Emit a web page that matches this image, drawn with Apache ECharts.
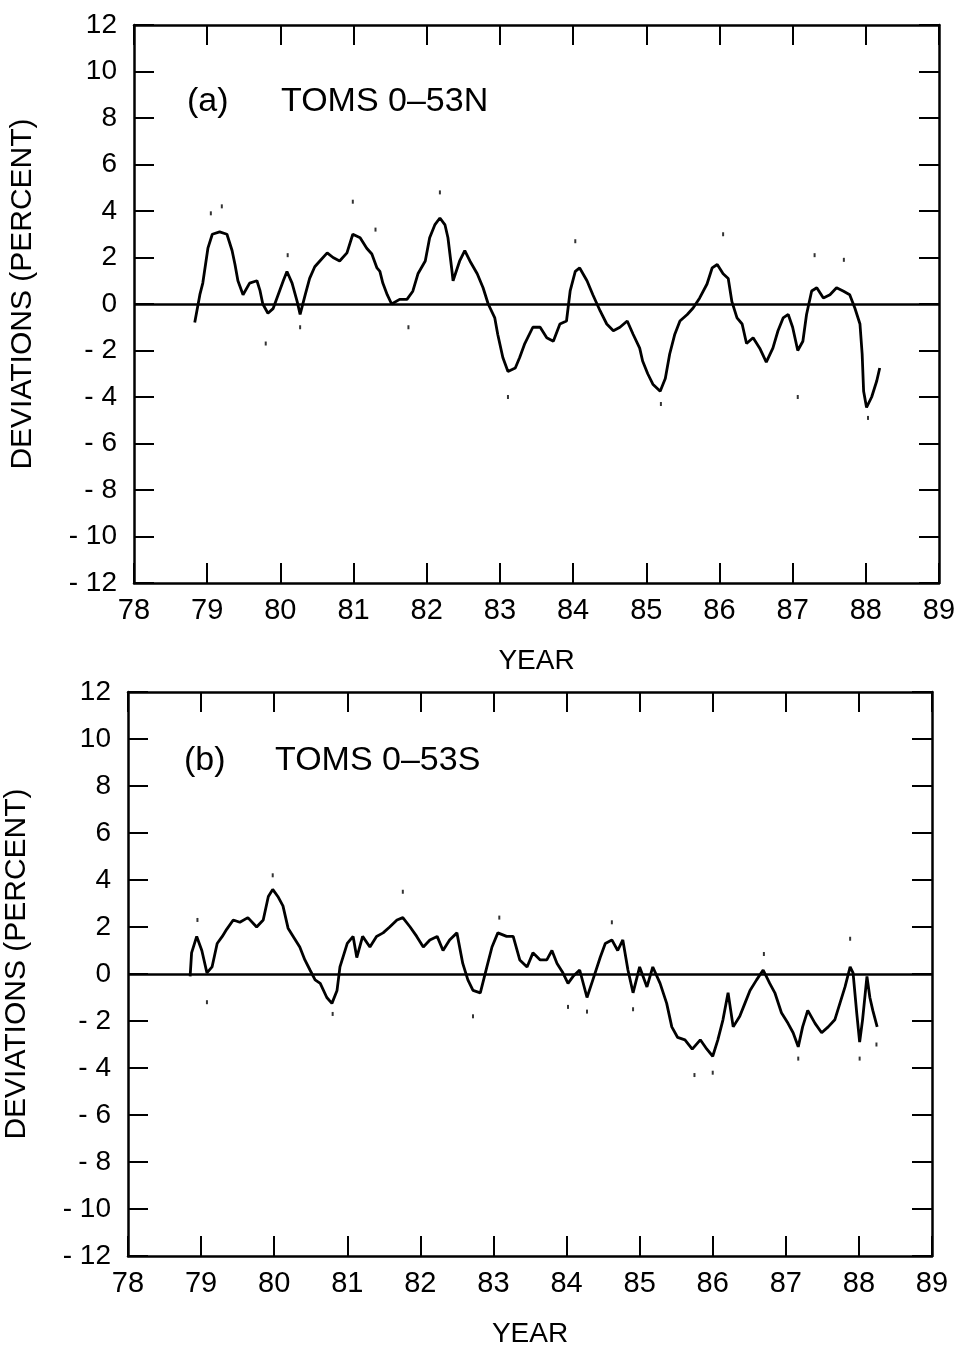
<!DOCTYPE html>
<html>
<head>
<meta charset="utf-8">
<script src="https://cdn.jsdelivr.net/npm/echarts@6/dist/echarts.min.js"></script>
<style>
html,body{margin:0;padding:0;background:#fff;}
#chart{width:954px;height:1346px;}
</style>
</head>
<body>
<div id="chart"></div>
<script>
// ---------- DATA ----------
const xTicks = [78, 79, 80, 81, 82, 83, 84, 85, 86, 87, 88, 89];
const yTicks = [-12, -10, -8, -6, -4, -2, 0, 2, 4, 6, 8, 10, 12];

// Panel (a) TOMS 0-53N : year (19xx) and deviation (%)
const yearsA = [78.83,78.9,78.94,79.01,79.07,79.17,79.27,79.34,79.38,79.42,79.49,79.58,79.68,79.72,79.76,79.83,79.9,79.97,
80.04,80.09,80.16,80.23,80.27,80.34,80.4,80.47,80.54,80.64,80.72,80.81,80.91,80.99,81.09,81.18,81.25,81.32,81.36,81.4,81.46,
81.52,81.63,81.73,81.81,81.88,81.98,82.04,82.11,82.18,82.25,82.29,82.34,82.36,82.45,82.52,82.59,82.69,82.77,82.84,82.93,82.97,
83.04,83.11,83.21,83.27,83.34,83.45,83.55,83.64,83.73,83.82,83.91,83.96,84.03,84.09,84.19,84.27,84.37,84.46,84.55,84.64,84.74,
84.82,84.91,84.95,85.02,85.09,85.19,85.26,85.32,85.39,85.46,85.56,85.64,85.73,85.83,85.9,85.97,86.05,86.12,86.17,86.24,86.31,
86.37,86.46,86.55,86.64,86.73,86.8,86.87,86.94,87.0,87.07,87.14,87.19,87.26,87.33,87.42,87.51,87.6,87.69,87.78,87.85,87.92,
87.95,87.97,88.01,88.08,88.15,88.19];
const valuesA = [-0.8,0.4,0.9,2.4,3.0,3.1,3.0,2.3,1.7,1.0,0.4,0.9,1.0,0.6,0.0,-0.4,-0.2,0.4,
1.0,1.4,0.9,0.1,-0.45,0.4,1.1,1.6,1.85,2.2,2.0,1.85,2.2,3.0,2.85,2.4,2.15,1.55,1.4,0.9,0.4,
0.0,0.2,0.2,0.55,1.3,1.85,2.85,3.4,3.7,3.4,2.85,1.55,1.0,1.85,2.3,1.85,1.3,0.7,0.0,-0.6,-1.3,
-2.3,-2.9,-2.75,-2.3,-1.7,-1.0,-1.0,-1.45,-1.6,-0.86,-0.73,0.56,1.4,1.55,1.0,0.4,-0.3,-0.86,-1.15,-1.0,-0.73,
-1.3,-1.9,-2.45,-3.0,-3.45,-3.75,-3.2,-2.15,-1.3,-0.73,-0.45,-0.17,0.26,0.86,1.55,1.7,1.3,1.1,0.1,-0.6,-0.86,
-1.7,-1.45,-1.9,-2.5,-1.9,-1.15,-0.6,-0.45,-1.0,-2.0,-1.6,-0.45,0.56,0.7,0.26,0.4,0.7,0.56,0.4,-0.17,-0.86,
-2.15,-3.75,-4.45,-4.0,-3.3,-2.75];
// scattered outlying dots, panel (a)
const dotsYearA  = [79.05,79.2,79.8,80.27,80.1,80.99,81.3,81.75,82.18,83.11,84.03,85.2,86.05,87.07,87.3,87.7,88.03];
const dotsValueA = [3.9,4.2,-1.7,-1.0,2.1,4.4,3.2,-1.0,4.8,-4.0,2.7,-4.3,3.0,-4.0,2.1,1.9,-4.9];

// Panel (b) TOMS 0-53S
const yearsB = [78.85,78.87,78.94,79.01,79.08,79.15,79.22,79.29,79.35,79.44,79.53,79.64,79.76,79.85,79.92,79.98,
80.05,80.12,80.19,80.26,80.35,80.42,80.49,80.56,80.63,80.72,80.79,80.86,80.9,81.0,81.08,81.13,81.21,81.31,81.4,81.49,
81.58,81.68,81.76,81.86,81.95,82.04,82.13,82.23,82.31,82.4,82.5,82.58,82.65,82.72,82.82,82.91,82.98,83.06,83.18,83.27,
83.36,83.46,83.54,83.64,83.73,83.8,83.87,83.95,84.02,84.09,84.18,84.28,84.36,84.46,84.53,84.62,84.7,84.77,84.84,84.91,
85.0,85.1,85.18,85.28,85.37,85.44,85.52,85.62,85.72,85.83,85.92,86.0,86.07,86.14,86.21,86.28,86.37,86.44,86.51,86.6,
86.69,86.78,86.85,86.94,87.03,87.1,87.17,87.23,87.3,87.4,87.49,87.58,87.67,87.74,87.81,87.88,87.92,87.97,88.01,88.05,
88.11,88.15,88.19,88.25];
const valuesB = [-0.1,0.9,1.6,1.0,0.05,0.3,1.3,1.6,1.9,2.3,2.2,2.4,2.0,2.3,3.3,3.6,
3.3,2.9,1.95,1.6,1.15,0.6,0.17,-0.25,-0.4,-1.0,-1.25,-0.7,0.3,1.3,1.6,0.7,1.6,1.15,1.6,1.75,
2.0,2.3,2.4,2.0,1.6,1.15,1.45,1.6,1.0,1.45,1.75,0.45,-0.25,-0.7,-0.8,0.3,1.15,1.75,1.6,1.6,
0.6,0.3,0.9,0.6,0.6,1.0,0.45,0.05,-0.4,-0.1,0.17,-1.0,-0.25,0.7,1.3,1.45,1.0,1.45,0.17,-0.8,
0.3,-0.55,0.3,-0.4,-1.25,-2.25,-2.7,-2.8,-3.2,-2.8,-3.2,-3.5,-2.8,-1.95,-0.8,-2.25,-1.8,-1.25,-0.7,-0.25,
0.17,-0.4,-0.8,-1.65,-2.1,-2.5,-3.1,-2.25,-1.55,-2.1,-2.5,-2.25,-1.95,-1.25,-0.55,0.3,0.05,-1.65,-2.9,-1.95,
-0.1,-1.0,-1.55,-2.25];
const dotsYearB  = [78.95,79.08,79.98,80.8,81.76,82.72,83.08,84.02,84.28,84.62,84.91,85.75,86.0,86.7,87.17,87.88,88.01,88.24];
const dotsValueB = [2.3,-1.2,4.2,-1.7,3.5,-1.8,2.4,-1.4,-1.6,2.2,-1.5,-4.3,-4.2,0.85,-3.6,1.5,-3.6,-3.0];

// ---------- BUILD ----------
const pairs = (xs, ys) => xs.map((x, i) => [x, ys[i]]);
const FONT = 'Liberation Sans, Arial, Helvetica, sans-serif';
const BLACK = '#000';

function xAx(grid, pos, withLabels) {
  return {
    gridIndex: grid, type: 'value', position: pos, min: xTicks[0], max: xTicks[xTicks.length - 1], interval: 1,
    axisLine: { show: true, onZero: false, lineStyle: { color: BLACK, width: 2.5 } },
    axisTick: { show: true, inside: true, length: 20, lineStyle: { color: BLACK, width: 2 } },
    axisLabel: { show: withLabels, color: BLACK, fontSize: 29, fontFamily: FONT, margin: 13 },
    splitLine: { show: false },
    name: withLabels ? 'YEAR' : '', nameLocation: 'middle', nameGap: 64,
    nameTextStyle: { color: BLACK, fontSize: 28, fontFamily: FONT }
  };
}
function yAx(grid, pos, withLabels) {
  return {
    gridIndex: grid, type: 'value', position: pos, min: yTicks[0], max: yTicks[yTicks.length - 1], interval: 2,
    axisLine: { show: true, onZero: false, lineStyle: { color: BLACK, width: 2.5 } },
    axisTick: { show: true, inside: true, length: 20, lineStyle: { color: BLACK, width: 2 } },
    axisLabel: {
      show: withLabels, color: BLACK, fontSize: 28, fontFamily: FONT, margin: 17,
      formatter: v => v < 0 ? '- ' + Math.abs(v) : String(v)
    },
    splitLine: { show: false },
    name: withLabels ? 'DEVIATIONS (PERCENT)' : '', nameLocation: 'middle', nameGap: 96, nameRotate: 90,
    nameTextStyle: { color: BLACK, fontSize: 30, fontFamily: FONT, padding: [0, 0, 0, 20] }
  };
}
function lineSeries(xi, yi, data) {
  return {
    type: 'line', xAxisIndex: xi, yAxisIndex: yi, data: data, showSymbol: false, symbol: 'none',
    lineStyle: { color: BLACK, width: 2.8 }, z: 3,
    markLine: {
      silent: true, symbol: 'none', label: { show: false },
      lineStyle: { color: BLACK, width: 2.5, type: 'solid' },
      data: [{ yAxis: 0 }]
    }
  };
}
function dotSeries(xi, yi, data) {
  return {
    type: 'scatter', xAxisIndex: xi, yAxisIndex: yi, data: data, symbol: 'rect', symbolSize: [2, 4],
    itemStyle: { color: BLACK }, z: 3
  };
}

const titleStyle = { color: BLACK, fontSize: 34, fontWeight: 'normal', fontFamily: FONT };
const option = {
  animation: false,
  backgroundColor: '#fff',
  title: [
    { text: '(a)', left: 182, top: 80, textStyle: titleStyle },
    { text: 'TOMS 0\u201353N', left: 276, top: 80, textStyle: titleStyle },
    { text: '(b)', left: 179, top: 739, textStyle: titleStyle },
    { text: 'TOMS 0\u201353S', left: 270, top: 739, textStyle: titleStyle }
  ],
  grid: [
    { left: 134, right: 15, top: 25, height: 558, outerBoundsMode: 'none', containLabel: false },
    { left: 128, right: 22, top: 692, height: 564, outerBoundsMode: 'none', containLabel: false }
  ],
  xAxis: [xAx(0, 'bottom', true), xAx(0, 'top', false), xAx(1, 'bottom', true), xAx(1, 'top', false)],
  yAxis: [yAx(0, 'left', true), yAx(0, 'right', false), yAx(1, 'left', true), yAx(1, 'right', false)],
  series: [
    lineSeries(0, 0, pairs(yearsA, valuesA)),
    dotSeries(0, 0, pairs(dotsYearA, dotsValueA)),
    lineSeries(2, 2, pairs(yearsB, valuesB)),
    dotSeries(2, 2, pairs(dotsYearB, dotsValueB))
  ]
};
const chart = echarts.init(document.getElementById('chart'), null, { renderer: 'canvas' });
chart.setOption(option);
</script>
</body>
</html>
